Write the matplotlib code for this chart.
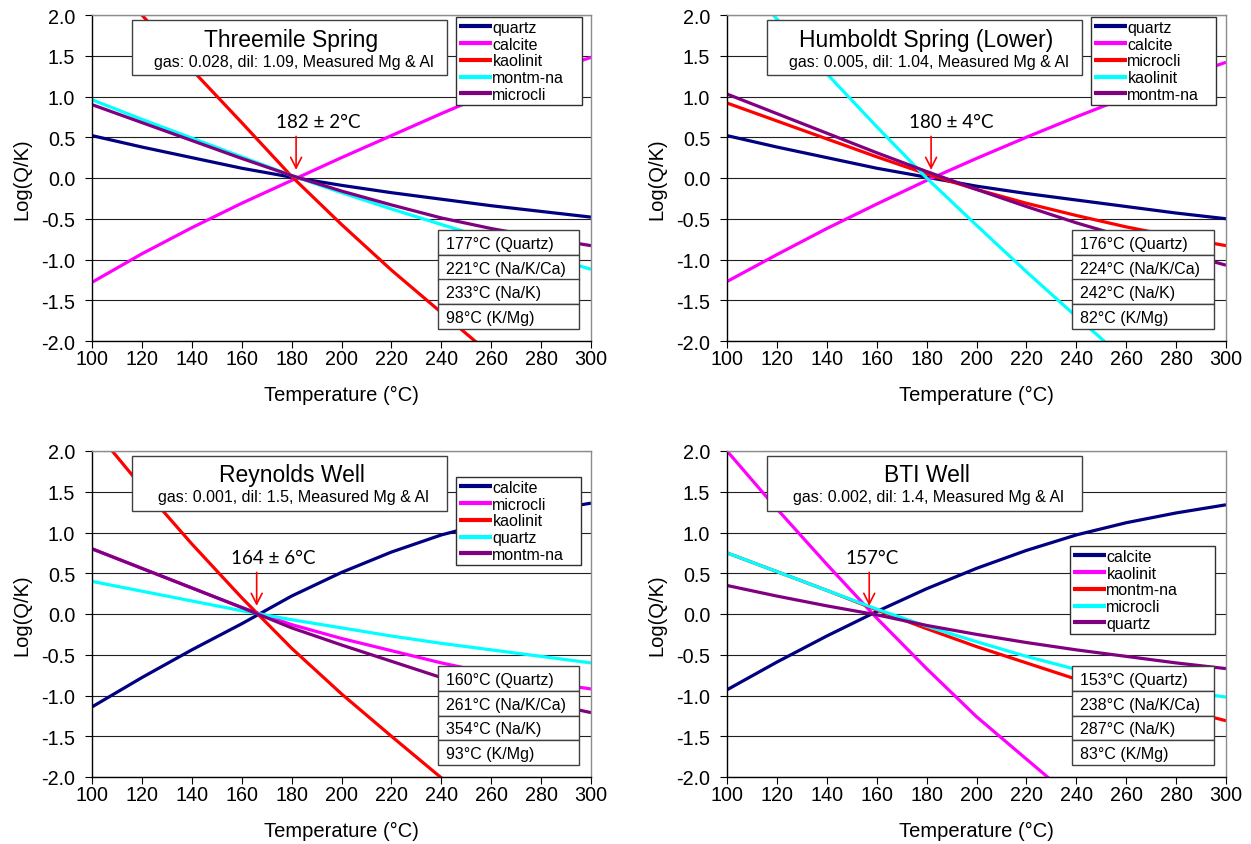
import matplotlib
matplotlib.use('Agg')
import matplotlib.pyplot as plt
from matplotlib.patches import Rectangle
from matplotlib.ticker import FuncFormatter, MultipleLocator

plt.rcParams['font.family'] = ['Liberation Sans', 'DejaVu Sans']
plt.rcParams['axes.unicode_minus'] = False

W, H = 1251, 845

# ---------------- data ----------------
temps = [100, 120, 140, 160, 180, 200, 220, 240, 260, 280, 300]
colors = ['#000080', '#FF00FF', '#FF0000', '#00FFFF', '#800080']

# Panel 1: Threemile Spring
p1_title = 'Threemile Spring'
p1_sub = 'gas: 0.028, dil: 1.09, Measured Mg & Al'
p1_names = ['quartz', 'calcite', 'kaolinit', 'montm-na', 'microcli']
p1_quartz = [0.52, 0.38, 0.25, 0.12, 0.01, -0.09, -0.18, -0.26, -0.34, -0.41, -0.48]
p1_calcite = [-1.28, -0.93, -0.61, -0.31, -0.03, 0.25, 0.52, 0.79, 1.05, 1.28, 1.48]
p1_kaolinit = [2.66, 2.0, 1.33, 0.68, 0.02, -0.57, -1.13, -1.65, -2.17, -2.67, -3.15]
p1_montm = [0.96, 0.72, 0.49, 0.26, 0.03, -0.18, -0.38, -0.57, -0.76, -0.94, -1.12]
p1_microcli = [0.90, 0.68, 0.46, 0.24, 0.03, -0.16, -0.33, -0.49, -0.62, -0.73, -0.83]
p1_geo = ['177°C (Quartz)', '221°C (Na/K/Ca)', '233°C (Na/K)', '98°C (K/Mg)']
p1_est = '182 ± 2°C'
p1_est_T = 181.8

# Panel 2: Humboldt Spring (Lower)
p2_title = 'Humboldt Spring (Lower)'
p2_sub = 'gas: 0.005, dil: 1.04, Measured Mg & Al'
p2_names = ['quartz', 'calcite', 'microcli', 'kaolinit', 'montm-na']
p2_quartz = [0.52, 0.38, 0.25, 0.12, 0.01, -0.10, -0.19, -0.27, -0.35, -0.43, -0.50]
p2_calcite = [-1.27, -0.94, -0.62, -0.32, -0.03, 0.24, 0.50, 0.75, 0.99, 1.21, 1.42]
p2_microcli = [0.92, 0.70, 0.48, 0.26, 0.05, -0.14, -0.31, -0.46, -0.60, -0.72, -0.83]
p2_kaolinit = [2.64, 1.95, 1.28, 0.63, 0.0, -0.58, -1.15, -1.70, -2.24, -2.75, -3.2]
p2_montm = [1.03, 0.79, 0.55, 0.31, 0.08, -0.14, -0.35, -0.55, -0.73, -0.90, -1.07]
p2_geo = ['176°C (Quartz)', '224°C (Na/K/Ca)', '242°C (Na/K)', '82°C (K/Mg)']
p2_est = '180 ± 4°C'
p2_est_T = 181.8

# Panel 3: Reynolds Well
p3_title = 'Reynolds Well'
p3_sub = 'gas: 0.001, dil: 1.5, Measured Mg & Al'
p3_names = ['calcite', 'microcli', 'kaolinit', 'quartz', 'montm-na']
p3_calcite = [-1.14, -0.78, -0.44, -0.12, 0.22, 0.51, 0.76, 0.97, 1.13, 1.26, 1.36]
p3_microcli = [0.80, 0.56, 0.32, 0.08, -0.13, -0.30, -0.45, -0.60, -0.73, -0.83, -0.92]
p3_kaolinit = [2.30, 1.56, 0.86, 0.20, -0.42, -0.98, -1.50, -2.01, -2.50, -2.95, -3.4]
p3_quartz = [0.40, 0.28, 0.16, 0.04, -0.07, -0.17, -0.27, -0.36, -0.44, -0.52, -0.60]
p3_montm = [0.80, 0.56, 0.32, 0.08, -0.17, -0.38, -0.58, -0.78, -0.94, -1.08, -1.21]
p3_geo = ['160°C (Quartz)', '261°C (Na/K/Ca)', '354°C (Na/K)', '93°C (K/Mg)']
p3_est = '164 ± 6°C'
p3_est_T = 166.0

# Panel 4: BTI Well
p4_title = 'BTI Well'
p4_sub = 'gas: 0.002, dil: 1.4, Measured Mg & Al'
p4_names = ['calcite', 'kaolinit', 'montm-na', 'microcli', 'quartz']
p4_calcite = [-0.93, -0.59, -0.27, 0.03, 0.31, 0.56, 0.78, 0.97, 1.12, 1.24, 1.34]
p4_kaolinit = [2.0, 1.29, 0.61, -0.05, -0.67, -1.26, -1.78, -2.30, -2.80, -3.3, -3.8]
p4_montm = [0.75, 0.52, 0.29, 0.05, -0.18, -0.40, -0.60, -0.80, -0.98, -1.15, -1.31]
p4_microcli = [0.75, 0.52, 0.29, 0.06, -0.15, -0.34, -0.52, -0.68, -0.82, -0.93, -1.02]
p4_quartz = [0.35, 0.22, 0.10, -0.01, -0.14, -0.25, -0.35, -0.44, -0.52, -0.60, -0.67]
p4_geo = ['153°C (Quartz)', '238°C (Na/K/Ca)', '287°C (Na/K)', '83°C (K/Mg)']
p4_est = '157°C'
p4_est_T = 157.0

# ---------------- layout (pixel boxes) ----------------
panels = [
    dict(ax=(92, 16, 591, 342), title=p1_title, sub=p1_sub, names=p1_names,
         series=[p1_quartz, p1_calcite, p1_kaolinit, p1_montm, p1_microcli],
         geo=p1_geo, est=p1_est, estT=p1_est_T, tbox=(132, 21, 447, 76),
         leg=(456, 18, 582), table=(438, 231, 579, 330), est_text_T=190.6),
    dict(ax=(727, 16, 1226, 342), title=p2_title, sub=p2_sub, names=p2_names,
         series=[p2_quartz, p2_calcite, p2_microcli, p2_kaolinit, p2_montm],
         geo=p2_geo, est=p2_est, estT=p2_est_T, tbox=(767, 21, 1082, 76),
         leg=(1091, 18, 1216), table=(1072, 231, 1214, 330), est_text_T=190.0),
    dict(ax=(92, 452, 591, 778), title=p3_title, sub=p3_sub, names=p3_names,
         series=[p3_calcite, p3_microcli, p3_kaolinit, p3_quartz, p3_montm],
         geo=p3_geo, est=p3_est, estT=p3_est_T, tbox=(132, 457, 447, 512),
         leg=(456, 478, 581), table=(438, 667, 579, 766), est_text_T=172.5),
    dict(ax=(727, 452, 1226, 778), title=p4_title, sub=p4_sub, names=p4_names,
         series=[p4_calcite, p4_kaolinit, p4_montm, p4_microcli, p4_quartz],
         geo=p4_geo, est=p4_est, estT=p4_est_T, tbox=(767, 457, 1082, 512),
         leg=(1070, 547, 1215), table=(1072, 667, 1214, 766), est_text_T=158.0),
]

fig = plt.figure(figsize=(W / 100, H / 100), dpi=100)


def fx(px):
    return px / W


def fy(py):
    return 1 - py / H


def add_box(x0, y0, x1, y1, lw=1.0, ec='#404040'):
    r = Rectangle((fx(x0), fy(y1)), (x1 - x0) / W, (y1 - y0) / H,
                  transform=fig.transFigure, fc='white', ec=ec, lw=lw, zorder=10)
    fig.add_artist(r)


fmt = FuncFormatter(lambda v, p: f"{v:.1f}")

for P in panels:
    x0, y0, x1, y1 = P['ax']
    ax = fig.add_axes([fx(x0), fy(y1), (x1 - x0) / W, (y1 - y0) / H])
    lines = []
    for name, vals, c in zip(P['names'], P['series'], colors):
        ln, = ax.plot(temps, vals, color=c, lw=2.3, label=name, solid_capstyle='butt')
        lines.append(ln)
    ax.set_xlim(100, 300)
    ax.set_ylim(-2.0, 2.0)
    ax.xaxis.set_major_locator(MultipleLocator(20))
    ax.yaxis.set_major_locator(MultipleLocator(0.5))
    ax.yaxis.set_major_formatter(fmt)
    ax.grid(axis='y', color='#202020', lw=0.8)
    ax.set_axisbelow(True)
    ax.tick_params(axis='both', direction='out', length=5, width=0.8, labelsize=14.2, color='black')
    ax.tick_params(axis='x', pad=1)
    ax.tick_params(axis='y', pad=7)
    for s in ['top', 'right']:
        ax.spines[s].set_color('#8c8c8c')
        ax.spines[s].set_linewidth(1.0)
    for s in ['left', 'bottom']:
        ax.spines[s].set_color('black')
        ax.spines[s].set_linewidth(1.0)
    ax.set_xlabel('Temperature (°C)', fontsize=14.5)
    ax.set_ylabel('Log(Q/K)', fontsize=14.5)
    ax.xaxis.label.set_va('center')
    ax.yaxis.label.set_va('center')
    ax.xaxis.set_label_coords(0.5, -0.163)
    ax.yaxis.set_label_coords((22 - 92) / 499, 0.5)

    # legend
    lx0, ly0, lx1 = P['leg']
    leg = ax.legend(handles=lines, loc='upper left',
                    bbox_to_anchor=(fx(lx0), fy(ly0), (lx1 - lx0) / W, 0.0),
                    bbox_transform=fig.transFigure, mode='expand', ncol=1,
                    fontsize=11.5, frameon=True, fancybox=False, shadow=False,
                    borderpad=0.18, labelspacing=0.11, handlelength=2.05,
                    handletextpad=0.05, borderaxespad=0.0)
    leg.get_frame().set_edgecolor('#303030')
    leg.get_frame().set_linewidth(1.0)
    leg.get_frame().set_alpha(1.0)
    for h in leg.legend_handles:
        h.set_linewidth(3.0)

    # title box
    bx0, by0, bx1, by1 = P['tbox']
    add_box(bx0, by0, bx1, by1)
    cx = (bx0 + bx1) / 2
    fig.text(fx(cx + 2), fy(by0 + 19), P['title'], ha='center', va='center', fontsize=16.5, zorder=11)
    fig.text(fx(cx + 4), fy(by0 + 41), P['sub'], ha='center', va='center', fontsize=11.5, zorder=11)

    # geothermometer table
    tx0, ty0, tx1, ty1 = P['table']
    rh = (ty1 - ty0) / 4
    for i, t in enumerate(P['geo']):
        ry0 = ty0 + i * rh
        add_box(tx0, ry0, tx1, ry0 + rh)
        fig.text(fx(tx0 + 8), fy(ry0 + rh / 2 + 1), t, ha='left', va='center', fontsize=11.5, zorder=11)

    # estimate annotation
    ax.annotate('', xy=(P['estT'], 0.10), xytext=(P['estT'], 0.51),
                arrowprops=dict(arrowstyle='->,head_length=0.55,head_width=0.28',
                                color='#FF0000', lw=1.2, mutation_scale=14,
                                shrinkA=0, shrinkB=0))
    ax.text(P['est_text_T'], 0.69, P['est'], ha='center', va='center',
            fontsize=13.5, family=['Lato', 'DejaVu Sans'])

fig.savefig('out.png', dpi=100)
